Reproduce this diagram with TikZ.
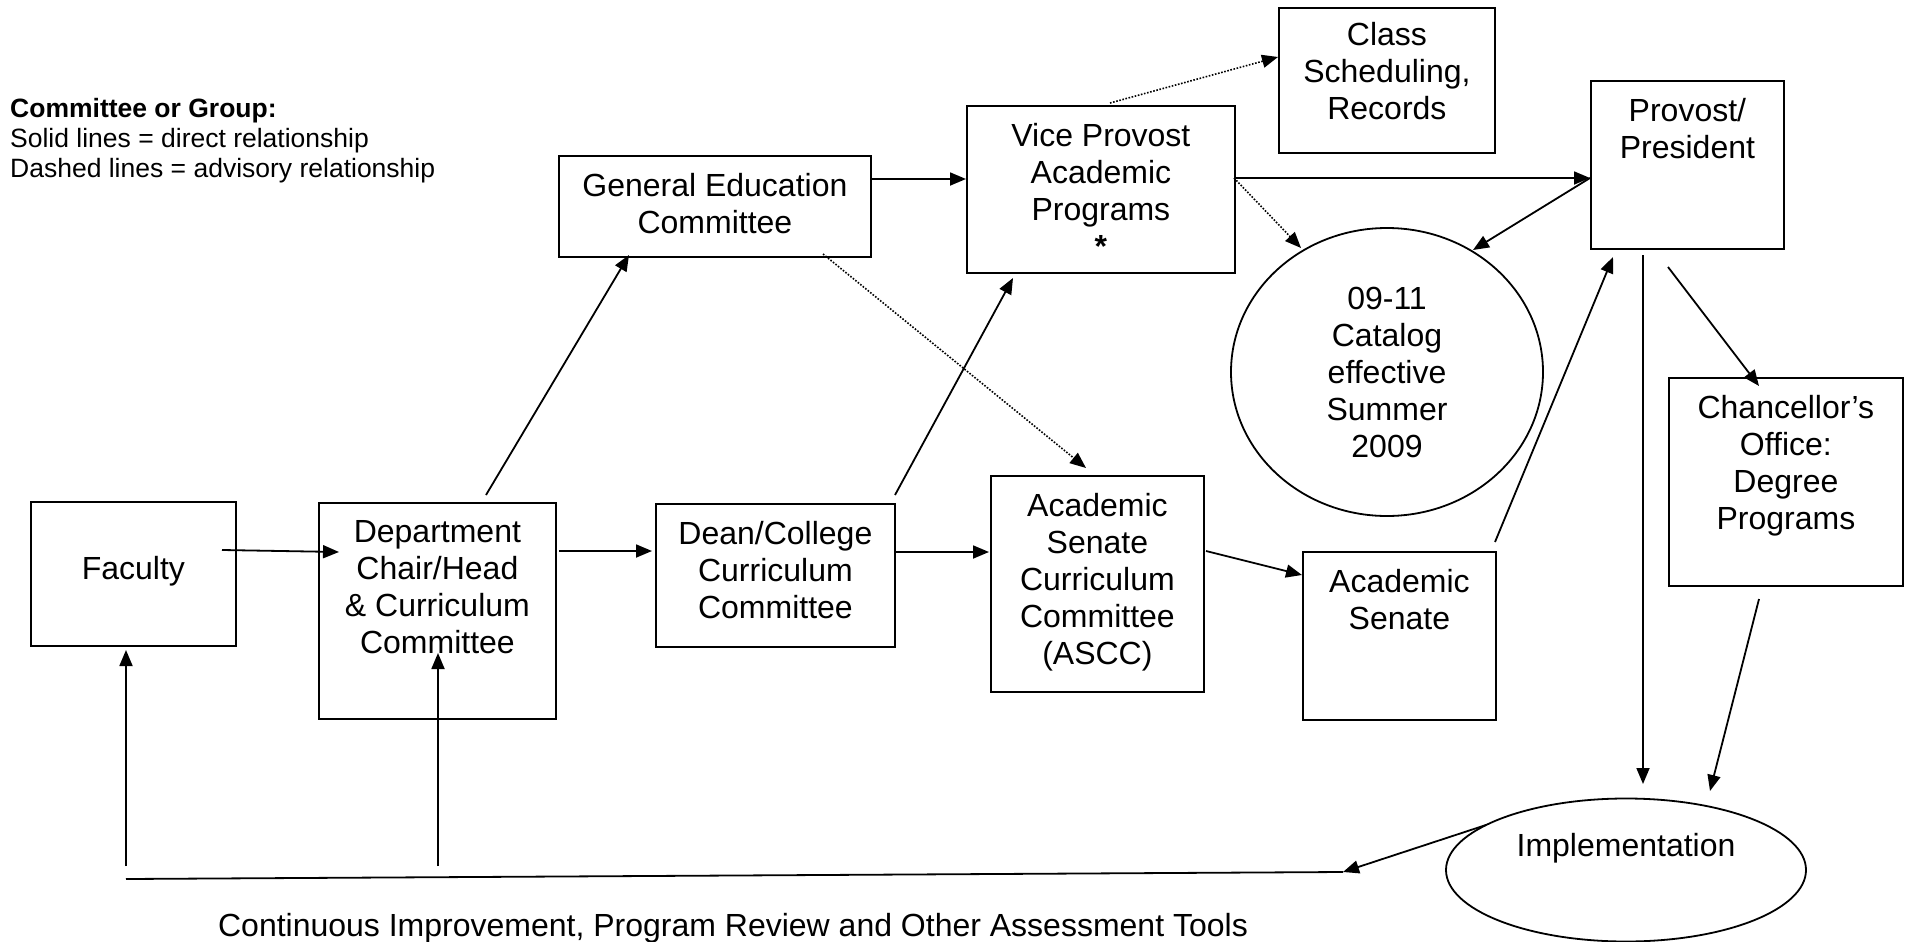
\documentclass[tikz,border=0pt]{standalone}
\usepackage{fontspec}
\setmainfont{Liberation Sans}
\usetikzlibrary{arrows.meta,calc,shapes.geometric}
\tikzset{
  box/.style={draw, line width=1.8pt, rectangle, inner sep=0pt, anchor=north west},
  oval/.style={draw, line width=1.8pt, ellipse, inner sep=0pt},
  txt/.style={anchor=north, align=center, inner sep=0pt, font=\fontsize{32}{37}\selectfont},
  arr/.style={line width=1.8pt, -{Triangle[length=16pt,width=13pt]}},
  dot/.style={line width=1.6pt, dash pattern=on 1.6pt off 1.6pt, -{Triangle[length=16pt,width=13pt]}},
  plain/.style={line width=1.8pt}
}
\begin{document}
\begin{tikzpicture}[x=1pt,y=-1pt]
\path[use as bounding box] (0,0) rectangle (1907,942);

% legend
\node[anchor=north west, align=left, inner sep=0pt, font=\fontsize{26.5}{30}\selectfont] (legend) at (10,98)
  {\textbf{Committee or Group:}\\Solid lines = direct relationship\\Dashed lines = advisory relationship};

% boxes
\node[box, minimum width=216pt, minimum height=145pt] (class) at (1278,7) {};
\node[box, minimum width=193pt, minimum height=168pt] (prov) at (1590,80) {};
\node[box, minimum width=268pt, minimum height=167pt] (vp) at (966,105) {};
\node[box, minimum width=312pt, minimum height=101pt] (gened) at (558,155) {};
\node[box, minimum width=234pt, minimum height=208pt] (chanc) at (1668,377) {};
\node[box, minimum width=205pt, minimum height=144pt] (fac) at (30,501) {};
\node[box, minimum width=237pt, minimum height=216pt] (dept) at (318,502) {};
\node[box, minimum width=239pt, minimum height=143pt] (dean) at (655,503) {};
\node[box, minimum width=213pt, minimum height=216pt] (ascc) at (990,475) {};
\node[box, minimum width=193pt, minimum height=168pt] (senate) at (1302,551) {};
\node[oval, minimum width=312pt, minimum height=288pt] (cat) at (1387,372) {};
\node[oval, minimum width=360pt, minimum height=143pt] (impl) at (1626,870) {};

% texts
\node[txt] (class-t) at ([yshift=-15pt]class.north) {Class\\Scheduling,\\Records};
\node[txt] (prov-t) at ([yshift=-18.5pt]prov.north) {Provost/\\President};
\node[txt] (vp-t) at ([yshift=-18.5pt]vp.north) {Vice Provost\\Academic\\Programs\\\textbf{*}};
\node[txt] (gened-t) at ([yshift=-18.5pt]gened.north) {General Education\\Committee};
\node[txt] (chanc-t) at ([yshift=-18.5pt]chanc.north) {Chancellor’s\\Office:\\Degree\\Programs};
\node[txt] (fac-t) at ([yshift=-55.5pt]fac.north) {Faculty};
\node[txt] (dept-t) at ([yshift=-18.5pt]dept.north) {Department\\Chair/Head\\\& Curriculum\\Committee};
\node[txt] (dean-t) at ([yshift=-18.5pt]dean.north) {Dean/College\\Curriculum\\Committee};
\node[txt] (ascc-t) at ([yshift=-18.5pt]ascc.north) {Academic\\Senate\\Curriculum\\Committee\\(ASCC)};
\node[txt] (senate-t) at ([yshift=-18.5pt]senate.north) {Academic\\Senate};
\node[txt] (cat-t) at (1387,286.5) {09-11\\Catalog\\effective\\Summer\\2009};
\node[txt] (impl-t) at (1626,833.5) {Implementation};
\node[txt] (bottom) at (733,913.5) {Continuous Improvement, Program Review and Other Assessment Tools};

% feedback coordinates
\coordinate (fbL) at (126,879);
\coordinate (fbR) at (1343,872);
\coordinate (fb1) at (126,866);
\coordinate (fb2) at (438,866);

% solid connectors
\draw[arr] ($(fac.north west)+(192,49)$) -- ($(dept.north west)+(21,50)$);
\draw[arr] ($(dept.north west)+(241,49)$) -- ($(dean.north west)+(-3,48)$);
\draw[arr] ($(dean.north west)+(240,49)$) -- ($(ascc.north west)+(-1,77)$);
\draw[arr] ($(ascc.north west)+(216,76)$) -- ($(senate.north west)+(0,24)$);
\draw[arr] ($(dept.north west)+(168,-7)$) -- ($(gened.north west)+(71,100)$);
\draw[arr] ($(dean.north west)+(240,-8)$) -- ($(vp.north west)+(47,173)$);
\draw[arr] ($(gened.north west)+(312,24)$) -- ($(vp.north west)+(0,74)$);
\draw[arr] ($(vp.north west)+(268,73)$) -- ($(prov.north west)+(0,98)$);
\draw[arr] ($(prov.north west)+(0,98)$) -- ($(cat.center)+(86,-122)$);
\draw[arr] ($(senate.north west)+(193,-9)$) -- ($(prov.north west)+(23,177)$);
\draw[arr] ($(prov.north west)+(53,175)$) -- ($(impl.center)+(17,-86)$);
\draw[arr] ($(prov.north west)+(78,187)$) -- ($(chanc.north west)+(91,9)$);
\draw[arr] ($(chanc.north west)+(91,222)$) -- ($(impl.center)+(84,-79)$);
\draw[arr] ($(impl.center)+(-140,-45)$) -- (fbR);
\draw[plain] (fbL) -- (fbR);
\draw[arr] (fb1) -- ($(fac.north west)+(96,149)$);
\draw[arr] (fb2) -- ($(dept.north west)+(120,151)$);

% dotted (advisory) connectors
\draw[dot] ($(vp.north west)+(144,-2)$) -- ($(class.north west)+(0,50)$);
\draw[dot] ($(vp.north west)+(268,73)$) -- ($(cat.center)+(-86,-124)$);
\draw[dot] ($(gened.north west)+(265,99)$) -- ($(ascc.north west)+(96,-7)$);
\end{tikzpicture}
\end{document}
